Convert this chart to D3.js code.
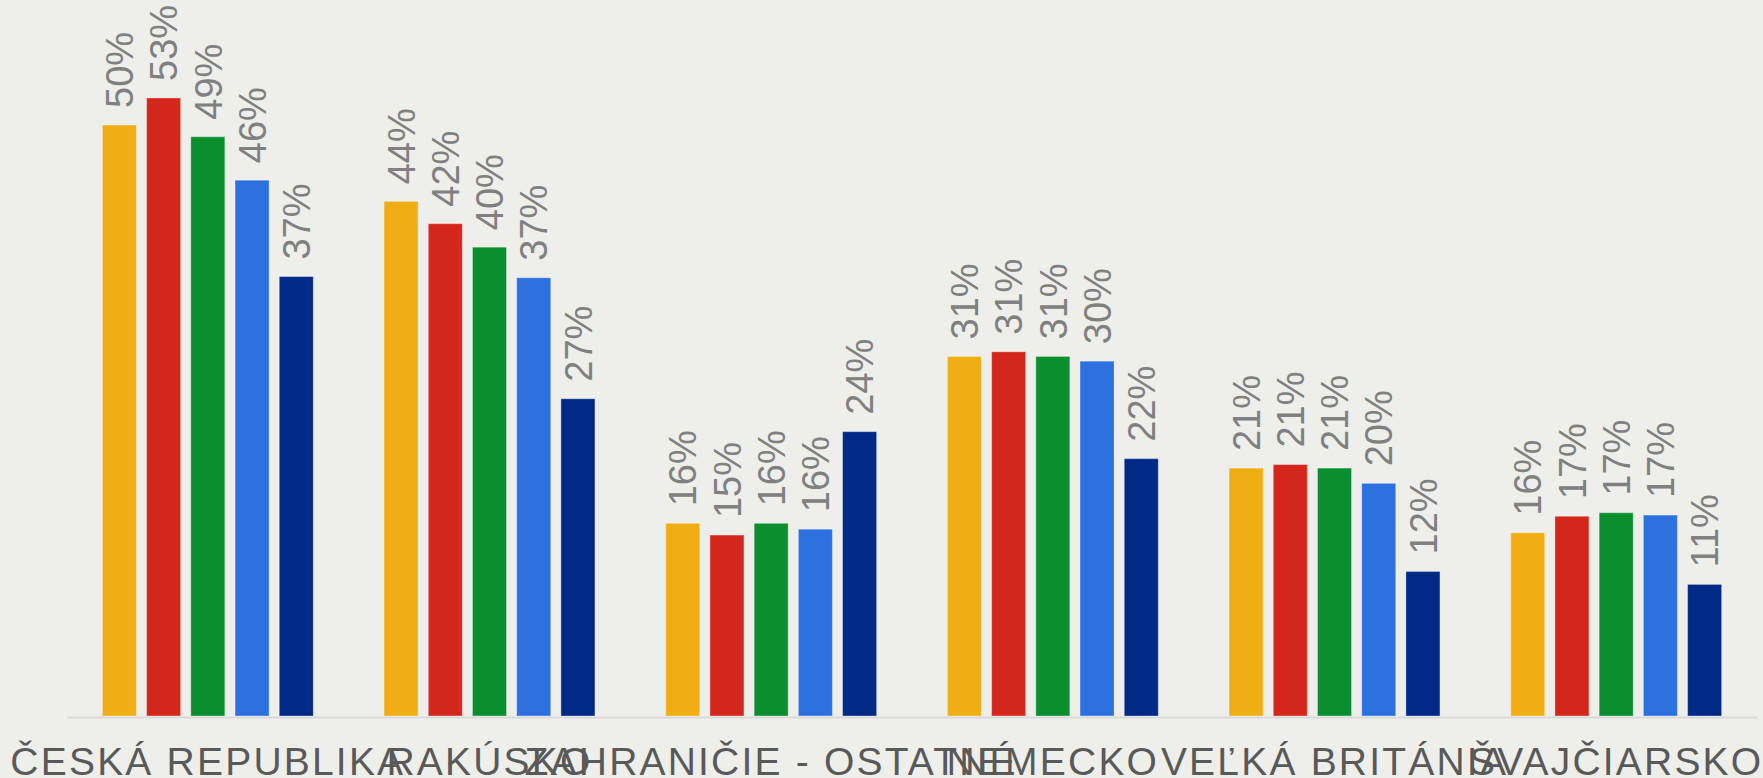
<!DOCTYPE html>
<html>
<head>
<meta charset="utf-8">
<script src="https://cdn.jsdelivr.net/npm/d3@7"></script>
<style>
  body { margin: 0; background: #eeefeb; }
  svg { display: block; }
</style>
</head>
<body>
<script>
// categories along the x axis
const categories = ["ČESKÁ REPUBLIKA", "RAKÚSKO", "ZAHRANIČIE - OSTATNÉ", "NEMECKO", "VEĽKÁ BRITÁNIA", "ŠVAJČIARSKO"];

// five series, one value (in %) per category
const series1 = [50.3, 43.8, 16.4, 30.6, 21.1, 15.6];
const series2 = [52.6, 41.9, 15.4, 31.0, 21.4, 17.0];
const series3 = [49.3, 39.9, 16.4, 30.6, 21.1, 17.3];
const series4 = [45.6, 37.3, 15.9, 30.2, 19.8, 17.1];
const series5 = [37.4, 27.0, 24.2, 21.9, 12.3, 11.2];

const seriesNames = ["series1", "series2", "series3", "series4", "series5"];
const colors = ["#f0ae14", "#d4271c", "#0b8f2e", "#2d70e0", "#002a86"];

const allSeries = [series1, series2, series3, series4, series5];

// set the dimensions of the graph
const width = 1763, height = 778;
const margin = {left: 67, right: 6, bottom: 62};
const base = height - margin.bottom;

const svg = d3.select("body")
  .append("svg")
    .attr("width", width)
    .attr("height", height);

// group scale and bar scale inside each group
const x0 = d3.scaleBand()
    .domain(categories)
    .range([margin.left, width - margin.right])
    .padding(0);

const x1 = d3.scaleBand()
    .domain(seriesNames)
    .range([0, x0.bandwidth()])
    .paddingInner(0.23)
    .paddingOuter(0.8);

const y = d3.scaleLinear()
    .domain([0, 60])
    .range([base, base - 60 * 11.75]);

const color = d3.scaleOrdinal().domain(seriesNames).range(colors);

// flat table built from the arrays
const rows = [];
categories.forEach((c, i) => {
  seriesNames.forEach((s, j) => {
    rows.push({cat: c, key: s, value: allSeries[j][i]});
  });
});

// bars
svg.append("g")
  .selectAll("rect")
  .data(rows)
  .join("rect")
    .attr("x", d => x0(d.cat) + x1(d.key))
    .attr("y", d => y(d.value))
    .attr("width", x1.bandwidth())
    .attr("height", d => y(0) - y(d.value))
    .attr("fill", d => color(d.key))
    .attr("stroke", "rgba(255,255,255,0.35)")
    .attr("stroke-width", 1);

// value labels, rotated
const fmt = d3.format(".0f");
svg.append("g")
  .selectAll("text")
  .data(rows)
  .join("text")
    .attr("transform", d => `translate(${x0(d.cat) + x1(d.key) + x1.bandwidth() / 2},${y(d.value) - 17}) rotate(-90)`)
    .attr("dy", "0.36em")
    .attr("text-anchor", "start")
    .attr("font-family", "Liberation Sans, Arial, sans-serif")
    .attr("font-size", 38)
    .attr("fill", "#808080")
    .text(d => fmt(d.value) + "%");

// x axis
const xAxis = svg.append("g")
    .attr("transform", `translate(0,${base})`)
    .call(d3.axisBottom(x0).tickSize(0).tickPadding(0));

xAxis.select(".domain")
    .attr("stroke", "#d9d9d9")
    .attr("stroke-width", 2)
    .attr("transform", "translate(0,1)");

xAxis.selectAll(".tick text")
    .attr("y", 59)
    .attr("dy", 0)
    .attr("font-family", "Liberation Sans, Arial, sans-serif")
    .attr("font-size", 39)
    .attr("letter-spacing", "2.2px")
    .attr("fill", "#595959");
</script>
</body>
</html>
